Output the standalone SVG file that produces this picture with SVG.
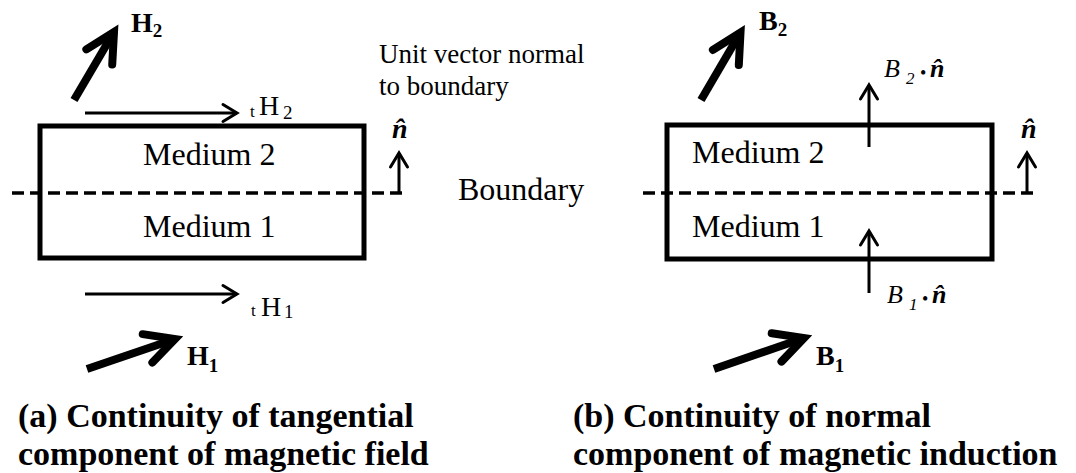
<svg xmlns="http://www.w3.org/2000/svg" width="1076" height="473" viewBox="0 0 1076 473" font-family="'Liberation Serif', Tinos, 'Times New Roman', 'DejaVu Serif', serif">
<style>
text{font-family:"Liberation Serif",Tinos,"Times New Roman","DejaVu Serif",serif;fill:#000}
.med{font-size:32px}
.note{font-size:27px}
.lbl{font-size:28px}
.b{font-weight:bold}
.i{font-style:italic}
.cap{font-size:34px;font-weight:bold}
.box{fill:none;stroke:#000;stroke-width:5}
.dash{stroke:#000;stroke-width:3.5;stroke-dasharray:12 6;fill:none}
.thick{stroke:#000;stroke-width:8;fill:none;marker-end:url(#hk)}
.thin{stroke:#000;stroke-width:3;fill:none;marker-end:url(#hn)}
</style>
<defs>
<marker id="hk" markerUnits="userSpaceOnUse" orient="auto" refX="0" refY="0" markerWidth="1" markerHeight="1" style="overflow:visible">
<path d="M-29,-15 L0,0 L-29,15" fill="none" stroke="#000" stroke-width="8" stroke-linejoin="miter" stroke-linecap="round"/>
</marker>
<marker id="hn" markerUnits="userSpaceOnUse" orient="auto" refX="0" refY="0" markerWidth="1" markerHeight="1" style="overflow:visible">
<path d="M-14,-8.5 L0,0 L-14,8.5" fill="none" stroke="#000" stroke-width="3" stroke-linejoin="miter" stroke-linecap="round"/>
</marker>
</defs>
<rect width="1076" height="473" fill="#fff"/>

<g id="panel-a-box">
<rect class="box" x="40" y="126" width="324" height="132"/>
<text class="med" x="143" y="165">Medium 2</text>
<text class="med" x="143" y="237">Medium 1</text>
</g>
<g id="panel-b-box">
<rect class="box" x="667" y="125" width="325" height="134"/>
<text class="med" x="692" y="163">Medium 2</text>
<text class="med" x="692" y="237">Medium 1</text>
</g>

<g id="boundaries">
<line class="dash" x1="12" y1="193" x2="405" y2="193"/>
<line class="dash" x1="643" y1="193" x2="1035" y2="193"/>
</g>

<g id="connectors">
<line class="thick" x1="74" y1="100" x2="114" y2="32"/>
<line class="thick" x1="87" y1="369" x2="175" y2="339"/>
<line class="thick" x1="701" y1="100" x2="740.5" y2="32.5"/>
<line class="thick" x1="714" y1="369" x2="804" y2="338"/>
<line class="thin" x1="85" y1="113" x2="237" y2="113"/>
<line class="thin" x1="85" y1="294" x2="237" y2="294"/>
<line class="thin" x1="399" y1="193" x2="399" y2="153"/>
<line class="thin" x1="1027" y1="193" x2="1027" y2="153"/>
<line class="thin" x1="869" y1="147" x2="869" y2="85"/>
<line class="thin" x1="869" y1="293" x2="869" y2="231"/>
</g>

<g id="label-H2"><text class="b" x="131" y="32" font-size="28">H<tspan font-size="19" y="37">2</tspan></text></g>
<g id="label-H1"><text class="b" x="187" y="365" font-size="28">H<tspan font-size="19" y="372">1</tspan></text></g>
<g id="label-B2"><text class="b" x="759" y="30" font-size="28">B<tspan font-size="19" y="36">2</tspan></text></g>
<g id="label-B1"><text class="b" x="816" y="365" font-size="28">B<tspan font-size="19" y="372">1</tspan></text></g>

<g id="label-tH2"><text x="250" y="117" font-size="17">t<tspan font-size="28" x="259" y="115">H</tspan><tspan font-size="19" x="283" y="119">2</tspan></text></g>
<g id="label-tH1"><text x="251" y="316" font-size="17">t<tspan font-size="28" x="261" y="316">H</tspan><tspan font-size="19" x="284" y="318">1</tspan></text></g>

<g id="label-unit">
<text class="note" x="379" y="63">Unit vector normal</text>
<text class="note" x="379" y="95">to boundary</text>
</g>
<g id="label-boundary"><text class="med" x="458" y="200">Boundary</text></g>

<g id="nhat-a"><text class="b i" font-size="28" x="392" y="138">n̂</text></g>
<g id="nhat-b"><text class="b i" font-size="28" x="1021" y="138">n̂</text></g>

<g id="label-B2n"><text class="i" font-size="26" x="884" y="77">B<tspan font-size="17" x="906" y="84">2</tspan><tspan font-style="normal" font-size="18" x="920" y="79">•</tspan><tspan font-weight="bold" x="930" y="77">n̂</tspan></text></g>
<g id="label-B1n"><text class="i" font-size="26" x="887" y="303">B<tspan font-size="17" x="909" y="310">1</tspan><tspan font-style="normal" font-size="18" x="922" y="305">•</tspan><tspan font-weight="bold" x="932" y="303">n̂</tspan></text></g>

<g id="caption-a">
<text class="cap" x="18" y="427">(a) Continuity of tangential</text>
<text class="cap" x="18" y="465">component of magnetic field</text>
</g>
<g id="caption-b">
<text class="cap" x="573" y="427">(b) Continuity of normal</text>
<text class="cap" x="573" y="465">component of magnetic induction</text>
</g>
</svg>
